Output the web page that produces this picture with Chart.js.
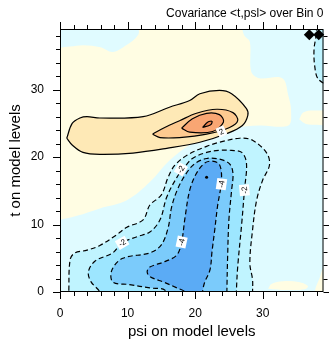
<!DOCTYPE html>
<html>
<head>
<meta charset="utf-8">
<script src="https://cdn.jsdelivr.net/npm/chart.js@4.4.0/dist/chart.umd.min.js"></script>
<style>
  html, body { margin: 0; padding: 0; background: #fff; }
</style>
</head>
<body>
<canvas id="chart" width="329" height="341"></canvas>
<script>
const FONT = "'Liberation Sans', Arial, Helvetica, sans-serif";

// axis ticks
const xTickValues = [0, 10, 20, 30];
const yTickValues = [0, 10, 20, 30];
const AXIS_MAX = 39;

// positive region (0..1), no line drawn
const zeroPos = [[-1,36.1],[1.5,36.4],[3.5,36.6],[6,36.3],[7.8,35.6],[9.8,36.6],[11.6,38.2],[11.8,40],
  [26.3,40],[27.3,38.0],[28.1,37.1],[28.3,32.7],[29.5,31.7],[32.9,31.7],[33.8,29.1],[34.2,26.9],
  [33.8,24.7],[29.5,24.7],[25.8,24.3],[22.2,23.2],[19.2,21.8],[16.2,19.5],[13.3,16.3],[9.9,13.6],
  [5.9,12.4],[2.5,11.3],[0,10.7],[-1,10.5]];
const blobBottom = [[30.8,0.5],[31.3,1.2],[33,1.6],[35.3,1.5],[36.7,0.9],[36.2,0.4],[33.5,0.3]];
const blobCorner = [[37.6,-1],[37.8,0.5],[38.4,2.0],[39.0,3.6],[40,4.0],[40,-1]];
const blobRight = [[35.4,25.6],[36,26.6],[37.5,26.9],[40,26.6],[40,24.8],[38,24.8],[36.4,24.9]];

// positive contours
const level1 = [[1.0,22.8],[1.8,25.0],[2.95,25.8],[4.0,26.0],[5.9,25.8],[12.3,26.0],[16.2,27.4],
  [19.2,28.4],[20.7,29.4],[23.6,29.9],[25.4,29.4],[27.6,27.2],[27.8,26.2],[27.0,24.7],[24.7,23.5],
  [20.7,22.2],[15.8,21.3],[10.8,20.6],[5.9,20.4],[3.4,20.7],[1.8,21.8]];
const level2 = [[13.7,23.4],[15.5,24.4],[17.7,25.4],[20.2,26.5],[23.2,27.1],[25.6,26.6],[26.3,25.4],
  [25.1,24.4],[21.7,23.4],[17.7,22.9],[14.8,22.9]];
const level3 = [[18.0,24.3],[19.6,25.7],[21.7,26.5],[23.6,26.3],[24.2,25.2],[22.6,23.8],[19.2,23.7]];
const level4 = [[21.1,24.4],[21.9,25.2],[22.5,25.3],[22.3,24.8]];

// negative contours
const neg1 = [[1.3,-1],[1.3,0],[1.5,4.8],[2.2,5.8],[4.0,6.2],[5.9,6.9],[8.4,8.5],[9.9,9.6],[12.3,10.7],
  [13.3,12.9],[15.0,14.4],[16.0,17.0],[17.0,18.8],[19.0,20.4],[21.7,21.6],[23.6,22.2],[26.6,22.8],
  [28.5,22.5],[30.6,20.6],[31.0,18.8],[30.0,16.6],[29.1,13.6],[28.5,9.2],[28.1,4.3],[28.5,1.8],
  [28.5,0],[28.5,-1]];
const neg1Edge = [[38.0,39.5],[37.9,38],[37.6,36],[37.7,33.5],[38.2,31.6],[39.5,31.0],[39.5,39.5]];
const neg2 = [[5.9,-1],[5.9,0],[4.6,1.5],[4.2,3.0],[5.2,4.6],[7.8,5.8],[9.2,7.3],[11.4,8.2],[13.3,8.9],
  [14.8,10.7],[15.8,14.1],[17.3,17.0],[18.2,18.2],[19.6,19.8],[21.7,20.7],[23.6,21.0],[25.4,21.0],
  [26.9,20.7],[27.6,19.1],[27.3,15.1],[26.9,10.2],[26.3,3.7],[26.1,0],[26.1,-1]];
const neg3 = [[15.5,-1],[15.5,0.3],[13.3,0.6],[10.3,1.1],[7.8,1.5],[7.7,3.3],[9.3,5.0],[13.3,5.8],
  [15.0,7.0],[16.0,9.5],[16.5,12.5],[17.3,15.0],[18.5,17.3],[19.9,19.0],[21.7,19.8],[23.6,19.7],
  [25.1,19.0],[25.6,17.6],[25.4,15.1],[25.0,10.7],[24.8,4.8],[24.7,0],[24.7,-1]];
const neg4 = [[18.5,-1],[18.5,0],[17.3,0.6],[15.5,1.4],[13.3,2.3],[12.9,3.0],[13.3,3.7],[15.5,4.5],
  [17.3,5.5],[18.0,7.4],[18.5,11.0],[19.2,15.1],[20.2,17.6],[21.4,19.1],[22.5,19.4],[23.6,18.9],
  [23.9,16.6],[23.3,12.6],[22.9,9.2],[22.5,6.0],[22.2,3.3],[21.4,1.4],[21.1,0],[21.1,-1]];

const minPoint = [[21.7, 17.0]];
const cornerMarks = [[36.9, 38.15], [38.3, 38.15]];

// contour labels: x, y, text, angle
const contourLabels = [
  [17.9, 18.2, "-2", -60],
  [23.9, 16.0, "-4", -82],
  [27.3, 15.1, "-2", -95],
  [23.9, 23.8, "2", -25],
  [9.2, 7.3, "-2", -30],
  [18.0, 7.4, "-4", -78],
];

const shapes = [
  [zeroPos, "#FFFDE3", null],
  [level1, "#FEE9B6", "solid"],
  [level2, "#FDCA90", "solid"],
  [level3, "#F9A673", "solid"],
  [level4, "#F2844F", "solid"],
  [blobBottom, "#FFFDE3", null],
  [blobCorner, "#FFFDE3", null],
  [blobRight, "#FFFDE3", null],
  [neg1, "#C0F4FF", "dash"],
  [neg1Edge, "#C0F4FF", "dash"],
  [neg2, "#9DE6FF", "dash"],
  [neg3, "#7BCBFB", "dash"],
  [neg4, "#5BABF5", "dash"],
];

const toXY = (pts) => pts.map(([x, y]) => ({ x, y }));

const datasets = shapes.map(([pts, color, line], i) => ({
  data: toXY(pts.concat([pts[0]])),
  backgroundColor: color,
  borderColor: "#000",
  borderWidth: line ? 1.2 : 0,
  borderDash: line === "dash" ? [5, 3] : [],
  fill: "shape",
  tension: 0.35,
  pointRadius: 0,
  order: 100 - i,
}));

datasets.push({
  data: toXY(minPoint),
  showLine: false,
  pointRadius: 1.5,
  pointBackgroundColor: "#000",
  pointBorderWidth: 0,
  order: 2,
});
datasets.push({
  data: toXY(cornerMarks),
  showLine: false,
  pointStyle: "rectRot",
  pointRadius: 5.5,
  pointBackgroundColor: "#000",
  pointBorderColor: "#000",
  pointBorderWidth: 0,
  clip: false,
  order: 1,
});

const framePlugin = {
  id: "frame",
  beforeDraw(chart) {
    const { ctx, chartArea: a } = chart;
    ctx.save();
    ctx.fillStyle = "#E0FBFF";
    ctx.fillRect(a.left, a.top, a.right - a.left, a.bottom - a.top);
    ctx.restore();
  },
  afterDatasetsDraw(chart) {
    const { ctx, scales } = chart;
    ctx.save();
    ctx.font = "8px " + FONT;
    ctx.textAlign = "center";
    ctx.textBaseline = "middle";
    contourLabels.forEach(([x, y, t, rot]) => {
      const px = scales.x.getPixelForValue(x);
      const py = scales.y.getPixelForValue(y);
      ctx.save();
      ctx.translate(px, py);
      ctx.rotate((rot * Math.PI) / 180);
      const w = ctx.measureText(t).width;
      ctx.fillStyle = "#fff";
      ctx.fillRect(-w / 2 - 2, -5, w + 4, 10);
      ctx.fillStyle = "#000";
      ctx.fillText(t, 0, 0.5);
      ctx.restore();
    });
    ctx.restore();
  },
  afterDraw(chart) {
    const { ctx, chartArea: a, scales } = chart;
    ctx.save();
    ctx.strokeStyle = "#000";
    ctx.lineWidth = 1;
    ctx.strokeRect(a.left + 0.5, a.top + 0.5, a.right - a.left - 1, a.bottom - a.top - 1);

    ctx.beginPath();
    for (let v = 0; v <= 38; v += 2) {
      const len = v % 10 === 0 ? 7 : 4;
      const px = Math.round(scales.x.getPixelForValue(v)) + 0.5;
      ctx.moveTo(px, a.bottom);
      ctx.lineTo(px, a.bottom + len);
      ctx.moveTo(px, a.top);
      ctx.lineTo(px, a.top - len);
      const py = Math.round(scales.y.getPixelForValue(v)) + 0.5;
      ctx.moveTo(a.left, py);
      ctx.lineTo(a.left - len, py);
      ctx.moveTo(a.right, py);
      ctx.lineTo(a.right + len, py);
    }
    ctx.stroke();

    ctx.fillStyle = "#000";
    ctx.font = "12px " + FONT;
    ctx.textAlign = "center";
    ctx.textBaseline = "alphabetic";
    xTickValues.forEach((v) => {
      ctx.fillText(String(v), scales.x.getPixelForValue(v), a.bottom + 25);
    });
    ctx.textAlign = "right";
    ctx.textBaseline = "middle";
    yTickValues.forEach((v) => {
      ctx.fillText(String(v), a.left - 16, scales.y.getPixelForValue(v));
    });

    ctx.font = "15px " + FONT;
    ctx.textAlign = "center";
    ctx.textBaseline = "alphabetic";
    ctx.fillText("psi on model levels", (a.left + a.right) / 2, 336);
    ctx.save();
    ctx.translate(20, (a.top + a.bottom) / 2);
    ctx.rotate(-Math.PI / 2);
    ctx.fillText("t on model levels", 0, 0);
    ctx.restore();

    ctx.font = "12px " + FONT;
    ctx.textAlign = "right";
    ctx.fillText("Covariance <t,psl> over Bin 0", a.right, 17);
    ctx.restore();
  },
};

new Chart(document.getElementById("chart"), {
  type: "line",
  data: { datasets },
  plugins: [framePlugin],
  options: {
    responsive: false,
    animation: false,
    devicePixelRatio: 1,
    layout: { padding: { left: 60, right: 5, top: 29, bottom: 49 } },
    plugins: { legend: { display: false }, tooltip: { enabled: false }, title: { display: false } },
    scales: {
      x: { type: "linear", min: 0, max: AXIS_MAX, display: false },
      y: { type: "linear", min: 0, max: AXIS_MAX, display: false },
    },
  },
});
</script>
</body>
</html>
